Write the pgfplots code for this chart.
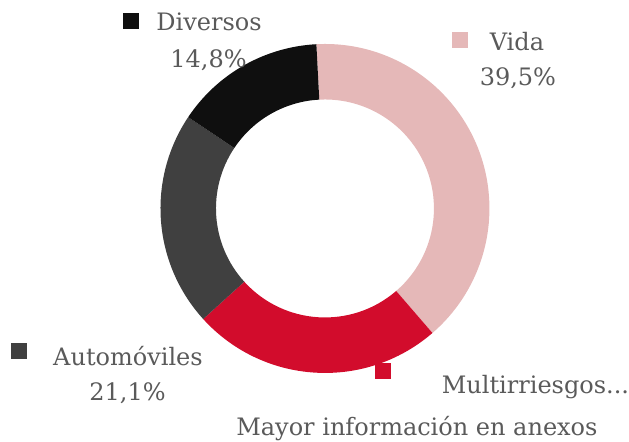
\documentclass[border=0pt]{standalone}
\usepackage{pgfplots}
\usepackage{pgfplotstable}
\pgfplotsset{compat=1.18}
\usepackage{fontspec}
\setmainfont{DejaVu Serif}
\definecolor{cVida}{HTML}{E5B8B8}
\definecolor{cMulti}{HTML}{D20C2C}
\definecolor{cAuto}{HTML}{404040}
\definecolor{cDiv}{HTML}{0F0F0F}
\definecolor{txt}{HTML}{5A5A5A}
\pgfplotstableread{
label value
Vida 39.5
Multirriesgos 24.6
Automoviles 21.1
Diversos 14.8
}\datatable
\pgfplotstablegetelem{0}{value}\of\datatable \let\vA\pgfplotsretval
\pgfplotstablegetelem{1}{value}\of\datatable \let\vB\pgfplotsretval
\pgfplotstablegetelem{2}{value}\of\datatable \let\vC\pgfplotsretval
\pgfplotstablegetelem{3}{value}\of\datatable \let\vD\pgfplotsretval
\pgfmathsetmacro\aA{93}
\pgfmathsetmacro\aB{\aA-3.6*\vA}
\pgfmathsetmacro\aC{\aB-3.6*\vB}
\pgfmathsetmacro\aD{\aC-3.6*\vC}
\pgfmathsetmacro\aE{\aD-3.6*\vD}
\def\cx{325}\def\cy{-208.5}\def\Ro{164.5}\def\Ri{109}
\newcommand\donutwedge[3]{%
  \fill[#3] (axis cs:{\cx+\Ro*cos(#1)},{\cy+\Ro*sin(#1)})
    arc[start angle=#1,end angle=#2,radius=\Ro pt]
    -- (axis cs:{\cx+\Ri*cos(#2)},{\cy+\Ri*sin(#2)})
    arc[start angle=#2,end angle=#1,radius=\Ri pt] -- cycle;}
\begin{document}
\begin{tikzpicture}
\begin{axis}[x=1pt,y=1pt,xmin=0,xmax=629,ymin=-442,ymax=0,
  hide axis,clip=false,scale only axis]
\path (axis cs:0,0) rectangle (axis cs:629,-442);
\donutwedge{\aA}{\aB}{cVida}
\donutwedge{\aB}{\aC}{cMulti}
\donutwedge{\aC}{\aD}{cAuto}
\donutwedge{\aD}{\aE}{cDiv}
\fill[cDiv] (axis cs:123,-13) rectangle (axis cs:139,-29);
\fill[cVida] (axis cs:452,-32) rectangle (axis cs:468,-48);
\fill[cAuto] (axis cs:11,-343) rectangle (axis cs:27,-359);
\fill[cMulti] (axis cs:375,-363) rectangle (axis cs:391,-379);
\begin{scope}[every node/.style={text=txt,font=\fontsize{24}{28}\selectfont,inner sep=0pt}]
\node[anchor=base] at (axis cs:209,-31) {Diversos};
\node[anchor=base] at (axis cs:208.5,-68) {14,8\%};
\node[anchor=base] at (axis cs:517,-51) {Vida};
\node[anchor=base] at (axis cs:518,-86) {39,5\%};
\node[anchor=base] at (axis cs:128,-366) {Automóviles};
\node[anchor=base] at (axis cs:127.5,-401) {21,1\%};
\node[anchor=base west] at (axis cs:441.7,-394) {Multirriesgos...};
\node[anchor=base] at (axis cs:417,-436) {Mayor información en anexos};
\end{scope}
\end{axis}
\end{tikzpicture}
\end{document}
